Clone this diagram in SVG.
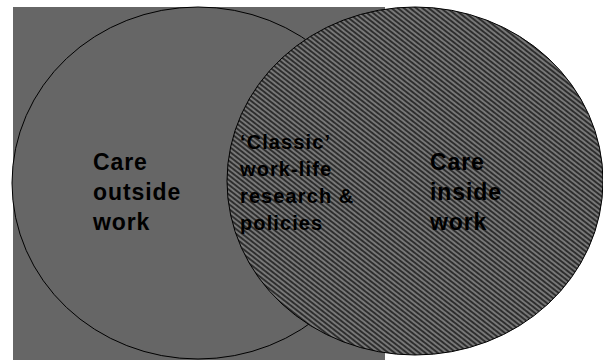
<svg xmlns="http://www.w3.org/2000/svg" width="603" height="360" viewBox="0 0 603 360">
  <defs>
    <pattern id="hatch" width="3.8" height="3.8" patternUnits="userSpaceOnUse" patternTransform="rotate(38)">
      <rect x="0" y="0" width="3.8" height="3.8" fill="#777777"/>
      <rect x="0" y="0" width="3.8" height="1.9" fill="#2e2e2e"/>
    </pattern>
  </defs>
  <style>
    .outline { stroke: #000; stroke-width: 1; }
    .big { font-family: "Liberation Sans", Arial, sans-serif; font-weight: bold; font-size: 23px; letter-spacing: 0.9px; fill: #000; }
    .mid { font-family: "Liberation Sans", Arial, sans-serif; font-weight: bold; font-size: 20px; letter-spacing: 1.1px; fill: #000; }
  </style>
  <rect x="0" y="0" width="603" height="360" fill="#ffffff"/>
  <rect id="background" x="13" y="7" width="372" height="353" fill="#666666"/>
  <g id="care-outside-work">
    <ellipse cx="198" cy="183" rx="186" ry="176" fill="#666666" class="outline"/>
  </g>
  <g id="care-inside-work">
    <ellipse cx="415" cy="181" rx="188" ry="174" fill="url(#hatch)" class="outline"/>
  </g>
  <g id="labels">
    <text class="big" x="93" y="170">Care</text>
    <text class="big" x="93" y="200">outside</text>
    <text class="big" x="93" y="230">work</text>
    <text class="mid" x="240" y="149">‘Classic’</text>
    <text class="mid" x="240" y="176">work-life</text>
    <text class="mid" x="240" y="203">research &amp;</text>
    <text class="mid" x="240" y="230">policies</text>
    <text class="big" x="430" y="170">Care</text>
    <text class="big" x="430" y="200">inside</text>
    <text class="big" x="430" y="230">work</text>
  </g>
</svg>
